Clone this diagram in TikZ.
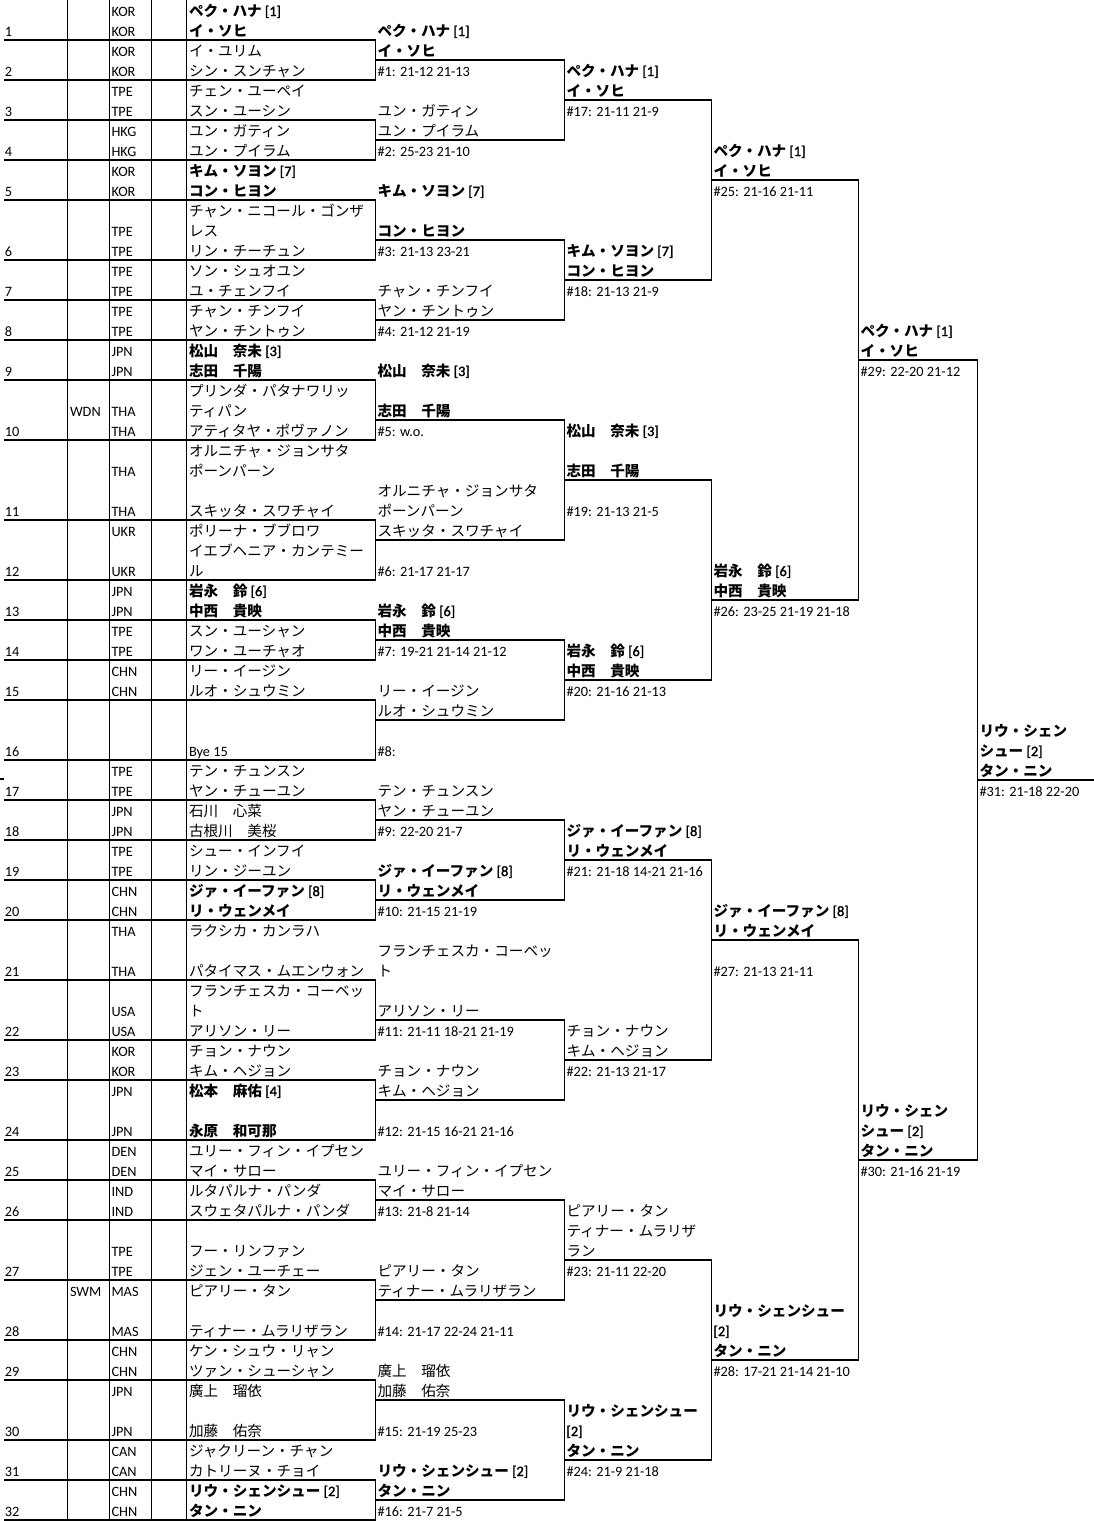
\documentclass[tikz,border=0pt]{standalone}
\usepackage{fontspec}
\setmainfont{Carlito}
\newfontfamily\latf{Carlito}[AutoFakeBold=2]
\newfontfamily\jpf{Noto Sans CJK JP}
\newcounter{tn}
\newcommand\T[4]{\stepcounter{tn}\node[#3] (t\arabic{tn}) at (#1,{20*#2+16}) {#4};}
\newcommand\sd[1]{{\latf\bfseries\fontsize{14.3}{16}\selectfont\ [#1]}}
\tikzset{
  base/.style={anchor=base west, inner sep=0pt, outer sep=0pt, text=black},
  lat/.style={base, font=\latf\fontsize{14.3}{16}\selectfont},
  latb/.style={base, font=\latf\fontsize{14.3}{16}\selectfont\bfseries},
  jp/.style={base, font=\jpf\fontsize{14.6}{16}\selectfont},
  jpb/.style={base, font=\jpf\fontsize{14.6}{16}\selectfont\bfseries},
  rule/.style={line width=1.1pt, draw=black}
}
\begin{document}
\begin{tikzpicture}[x=1pt,y=-1pt]
\useasboundingbox (0,0) rectangle (1094,1521);
% ---------- left table ----------
\foreach \x in {67.3,109.3,151.3,186.5} \draw[rule] (\x,0) -- (\x,1520);
\foreach \y in {40,80,120,160,200,260,300,340,380,440,520,580,620,660,700,760,800,840,880,920,980,1040,1080,1140,1180,1220,1280,1340,1380,1440,1480,1520}
  \draw[rule] (4,\y) -- (375.5,\y);
\foreach \a/\b in {40/80,120/160,200/260,300/340,380/440,520/580,620/660,700/760,800/840,880/920,980/1040,1080/1140,1180/1220,1280/1340,1380/1440,1480/1520}
  \draw[rule] (375.5,\a) -- (375.5,\b);
\draw[rule] (0,779) -- (4,779);
% ---------- brackets ----------
\foreach \a/\b in {60/140,240/320,420/540,640/720,820/900,1020/1100,1200/1300,1400/1500}
  \draw[rule] (375.5,\a) -- (564.5,\a) -- (564.5,\b) -- (375.5,\b);
\foreach \a/\b in {100/280,480/680,860/1060,1260/1460}
  \draw[rule] (564.5,\a) -- (711.5,\a) -- (711.5,\b) -- (564.5,\b);
\foreach \a/\b in {180/600,940/1360}
  \draw[rule] (711.5,\a) -- (858.5,\a) -- (858.5,\b) -- (711.5,\b);
\draw[rule] (858.5,360) -- (977.7,360) -- (977.7,1160) -- (858.5,1160);
\draw[rule] (977.7,780) -- (1094,780);
% ---------- numbers ----------
\foreach \n/\r in {1/1,2/3,3/5,4/7,5/9,6/12,7/14,8/16,9/18,10/21,11/25,12/28,13/30,14/32,15/34,16/37,17/39,18/41,19/43,20/45,21/48,22/51,23/53,24/56,25/58,26/60,27/63,28/66,29/68,30/71,31/73,32/75}
  \node[lat] (n\n) at (5,{20*\r+16}) {\n};
\node[lat] (wdn) at (70,{20*20+16}) {WDN};
\node[lat] (swm) at (70,{20*64+16}) {SWM};
\foreach \r/\c in {0/KOR,1/KOR,2/KOR,3/KOR,4/TPE,5/TPE,6/HKG,7/HKG,8/KOR,9/KOR,11/TPE,12/TPE,13/TPE,14/TPE,15/TPE,16/TPE,17/JPN,18/JPN,20/THA,21/THA,23/THA,25/THA,26/UKR,28/UKR,29/JPN,30/JPN,31/TPE,32/TPE,33/CHN,34/CHN,38/TPE,39/TPE,40/JPN,41/JPN,42/TPE,43/TPE,44/CHN,45/CHN,46/THA,48/THA,50/USA,51/USA,52/KOR,53/KOR,54/JPN,56/JPN,57/DEN,58/DEN,59/IND,60/IND,62/TPE,63/TPE,64/MAS,66/MAS,67/CHN,68/CHN,69/JPN,71/JPN,72/CAN,73/CAN,74/CHN,75/CHN}
  \node[lat] (c\r) at (111.5,{20*\r+16}) {\c};
% ---------- round 1 names ----------
\T{189}{0}{jpb}{ペク・ハナ\sd{1}}
\T{189}{1}{jpb}{イ・ソヒ}
\T{189}{2}{jp}{イ・ユリム}
\T{189}{3}{jp}{シン・スンチャン}
\T{189}{4}{jp}{チェン・ユーペイ}
\T{189}{5}{jp}{スン・ユーシン}
\T{189}{6}{jp}{ユン・ガティン}
\T{189}{7}{jp}{ユン・プイラム}
\T{189}{8}{jpb}{キム・ソヨン\sd{7}}
\T{189}{9}{jpb}{コン・ヒヨン}
\T{189}{10}{jp}{チャン・ニコール・ゴンザ}
\T{189}{11}{jp}{レス}
\T{189}{12}{jp}{リン・チーチュン}
\T{189}{13}{jp}{ソン・シュオユン}
\T{189}{14}{jp}{ユ・チェンフイ}
\T{189}{15}{jp}{チャン・チンフイ}
\T{189}{16}{jp}{ヤン・チントゥン}
\T{189}{17}{jpb}{松山　奈未\sd{3}}
\T{189}{18}{jpb}{志田　千陽}
\T{189}{19}{jp}{プリンダ・パタナワリッ}
\T{189}{20}{jp}{ティパン}
\T{189}{21}{jp}{アティタヤ・ポヴァノン}
\T{189}{22}{jp}{オルニチャ・ジョンサタ}
\T{189}{23}{jp}{ポーンパーン}
\T{189}{25}{jp}{スキッタ・スワチャイ}
\T{189}{26}{jp}{ポリーナ・ブブロワ}
\T{189}{27}{jp}{イエブヘニア・カンテミー}
\T{189}{28}{jp}{ル}
\T{189}{29}{jpb}{岩永　鈴\sd{6}}
\T{189}{30}{jpb}{中西　貴映}
\T{189}{31}{jp}{スン・ユーシャン}
\T{189}{32}{jp}{ワン・ユーチャオ}
\T{189}{33}{jp}{リー・イージン}
\T{189}{34}{jp}{ルオ・シュウミン}
\T{189}{37}{lat}{Bye 15}
\T{189}{38}{jp}{テン・チュンスン}
\T{189}{39}{jp}{ヤン・チューユン}
\T{189}{40}{jp}{石川　心菜}
\T{189}{41}{jp}{古根川　美桜}
\T{189}{42}{jp}{シュー・インフイ}
\T{189}{43}{jp}{リン・ジーユン}
\T{189}{44}{jpb}{ジァ・イーファン\sd{8}}
\T{189}{45}{jpb}{リ・ウェンメイ}
\T{189}{46}{jp}{ラクシカ・カンラハ}
\T{189}{48}{jp}{パタイマス・ムエンウォン}
\T{189}{49}{jp}{フランチェスカ・コーベッ}
\T{189}{50}{jp}{ト}
\T{189}{51}{jp}{アリソン・リー}
\T{189}{52}{jp}{チョン・ナウン}
\T{189}{53}{jp}{キム・ヘジョン}
\T{189}{54}{jpb}{松本　麻佑\sd{4}}
\T{189}{56}{jpb}{永原　和可那}
\T{189}{57}{jp}{ユリー・フィン・イプセン}
\T{189}{58}{jp}{マイ・サロー}
\T{189}{59}{jp}{ルタパルナ・パンダ}
\T{189}{60}{jp}{スウェタパルナ・パンダ}
\T{189}{62}{jp}{フー・リンファン}
\T{189}{63}{jp}{ジェン・ユーチェー}
\T{189}{64}{jp}{ピアリー・タン}
\T{189}{66}{jp}{ティナー・ムラリザラン}
\T{189}{67}{jp}{ケン・シュウ・リャン}
\T{189}{68}{jp}{ツァン・シューシャン}
\T{189}{69}{jp}{廣上　瑠依}
\T{189}{71}{jp}{加藤　佑奈}
\T{189}{72}{jp}{ジャクリーン・チャン}
\T{189}{73}{jp}{カトリーヌ・チョイ}
\T{189}{74}{jpb}{リウ・シェンシュー\sd{2}}
\T{189}{75}{jpb}{タン・ニン}
% ---------- round 2 ----------
\T{377.5}{1}{jpb}{ペク・ハナ\sd{1}}
\T{377.5}{2}{jpb}{イ・ソヒ}
\T{377.5}{3}{lat}{\#1: 21-12 21-13}
\T{377.5}{5}{jp}{ユン・ガティン}
\T{377.5}{6}{jp}{ユン・プイラム}
\T{377.5}{7}{lat}{\#2: 25-23 21-10}
\T{377.5}{9}{jpb}{キム・ソヨン\sd{7}}
\T{377.5}{11}{jpb}{コン・ヒヨン}
\T{377.5}{12}{lat}{\#3: 21-13 23-21}
\T{377.5}{14}{jp}{チャン・チンフイ}
\T{377.5}{15}{jp}{ヤン・チントゥン}
\T{377.5}{16}{lat}{\#4: 21-12 21-19}
\T{377.5}{18}{jpb}{松山　奈未\sd{3}}
\T{377.5}{20}{jpb}{志田　千陽}
\T{377.5}{21}{lat}{\#5: w.o.}
\T{377.5}{24}{jp}{オルニチャ・ジョンサタ}
\T{377.5}{25}{jp}{ポーンパーン}
\T{377.5}{26}{jp}{スキッタ・スワチャイ}
\T{377.5}{28}{lat}{\#6: 21-17 21-17}
\T{377.5}{30}{jpb}{岩永　鈴\sd{6}}
\T{377.5}{31}{jpb}{中西　貴映}
\T{377.5}{32}{lat}{\#7: 19-21 21-14 21-12}
\T{377.5}{34}{jp}{リー・イージン}
\T{377.5}{35}{jp}{ルオ・シュウミン}
\T{377.5}{37}{lat}{\#8:}
\T{377.5}{39}{jp}{テン・チュンスン}
\T{377.5}{40}{jp}{ヤン・チューユン}
\T{377.5}{41}{lat}{\#9: 22-20 21-7}
\T{377.5}{43}{jpb}{ジァ・イーファン\sd{8}}
\T{377.5}{44}{jpb}{リ・ウェンメイ}
\T{377.5}{45}{lat}{\#10: 21-15 21-19}
\T{377.5}{47}{jp}{フランチェスカ・コーベッ}
\T{377.5}{48}{jp}{ト}
\T{377.5}{50}{jp}{アリソン・リー}
\T{377.5}{51}{lat}{\#11: 21-11 18-21 21-19}
\T{377.5}{53}{jp}{チョン・ナウン}
\T{377.5}{54}{jp}{キム・ヘジョン}
\T{377.5}{56}{lat}{\#12: 21-15 16-21 21-16}
\T{377.5}{58}{jp}{ユリー・フィン・イプセン}
\T{377.5}{59}{jp}{マイ・サロー}
\T{377.5}{60}{lat}{\#13: 21-8 21-14}
\T{377.5}{63}{jp}{ピアリー・タン}
\T{377.5}{64}{jp}{ティナー・ムラリザラン}
\T{377.5}{66}{lat}{\#14: 21-17 22-24 21-11}
\T{377.5}{68}{jp}{廣上　瑠依}
\T{377.5}{69}{jp}{加藤　佑奈}
\T{377.5}{71}{lat}{\#15: 21-19 25-23}
\T{377.5}{73}{jpb}{リウ・シェンシュー\sd{2}}
\T{377.5}{74}{jpb}{タン・ニン}
\T{377.5}{75}{lat}{\#16: 21-7 21-5}
% ---------- round 3 ----------
\T{566.5}{3}{jpb}{ペク・ハナ\sd{1}}
\T{566.5}{4}{jpb}{イ・ソヒ}
\T{566.5}{5}{lat}{\#17: 21-11 21-9}
\T{566.5}{12}{jpb}{キム・ソヨン\sd{7}}
\T{566.5}{13}{jpb}{コン・ヒヨン}
\T{566.5}{14}{lat}{\#18: 21-13 21-9}
\T{566.5}{21}{jpb}{松山　奈未\sd{3}}
\T{566.5}{23}{jpb}{志田　千陽}
\T{566.5}{25}{lat}{\#19: 21-13 21-5}
\T{566.5}{32}{jpb}{岩永　鈴\sd{6}}
\T{566.5}{33}{jpb}{中西　貴映}
\T{566.5}{34}{lat}{\#20: 21-16 21-13}
\T{566.5}{41}{jpb}{ジァ・イーファン\sd{8}}
\T{566.5}{42}{jpb}{リ・ウェンメイ}
\T{566.5}{43}{lat}{\#21: 21-18 14-21 21-16}
\T{566.5}{51}{jp}{チョン・ナウン}
\T{566.5}{52}{jp}{キム・ヘジョン}
\T{566.5}{53}{lat}{\#22: 21-13 21-17}
\T{566.5}{60}{jp}{ピアリー・タン}
\T{566.5}{61}{jp}{ティナー・ムラリザ}
\T{566.5}{62}{jp}{ラン}
\T{566.5}{63}{lat}{\#23: 21-11 22-20}
\T{566.5}{70}{jpb}{リウ・シェンシュー}
\T{566.5}{71}{latb}{[2]}
\T{566.5}{72}{jpb}{タン・ニン}
\T{566.5}{73}{lat}{\#24: 21-9 21-18}
% ---------- round 4 ----------
\T{713.5}{7}{jpb}{ペク・ハナ\sd{1}}
\T{713.5}{8}{jpb}{イ・ソヒ}
\T{713.5}{9}{lat}{\#25: 21-16 21-11}
\T{713.5}{28}{jpb}{岩永　鈴\sd{6}}
\T{713.5}{29}{jpb}{中西　貴映}
\T{713.5}{30}{lat}{\#26: 23-25 21-19 21-18}
\T{713.5}{45}{jpb}{ジァ・イーファン\sd{8}}
\T{713.5}{46}{jpb}{リ・ウェンメイ}
\T{713.5}{48}{lat}{\#27: 21-13 21-11}
\T{713.5}{65}{jpb}{リウ・シェンシュー}
\T{713.5}{66}{latb}{[2]}
\T{713.5}{67}{jpb}{タン・ニン}
\T{713.5}{68}{lat}{\#28: 17-21 21-14 21-10}
% ---------- semifinals ----------
\T{860.5}{16}{jpb}{ペク・ハナ\sd{1}}
\T{860.5}{17}{jpb}{イ・ソヒ}
\T{860.5}{18}{lat}{\#29: 22-20 21-12}
\T{860.5}{55}{jpb}{リウ・シェン}
\T{860.5}{56}{jpb}{シュー\sd{2}}
\T{860.5}{57}{jpb}{タン・ニン}
\T{860.5}{58}{lat}{\#30: 21-16 21-19}
% ---------- final ----------
\T{979.5}{36}{jpb}{リウ・シェン}
\T{979.5}{37}{jpb}{シュー\sd{2}}
\T{979.5}{38}{jpb}{タン・ニン}
\T{979.5}{39}{lat}{\#31: 21-18 22-20}
\end{tikzpicture}
\end{document}
